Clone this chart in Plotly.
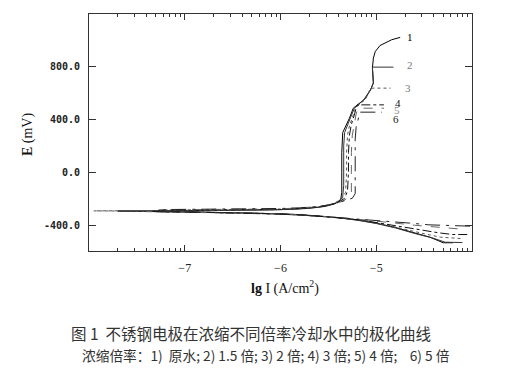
import plotly.graph_objects as go
import math

# ---- data (lg I in A/cm^2, E in mV) ----
lg1 = [-4.20, -4.30, -4.44, -4.60, -4.80, -5.00, -5.20, -5.40, -5.60, -5.80, -6.00, -6.30, -6.60, -6.90, -7.20, -7.50, -7.70,
       -7.40, -7.10, -6.80, -6.50, -6.20, -6.00, -5.80, -5.60, -5.48, -5.40, -5.37, -5.36, -5.36, -5.36, -5.35, -5.31, -5.28,
       -5.24, -5.20, -5.13, -5.06, -5.03, -5.04, -5.03, -5.01, -4.96, -4.84, -4.75]
E1 = [-530, -530, -488, -455, -415, -382, -358, -340, -328, -318, -312, -306, -302, -298, -295, -292, -291,
      -290, -289, -288, -286, -284, -280, -274, -262, -245, -225, -200, -150, 0, 150, 300, 357, 408,
      483, 508, 546, 621, 672, 785, 860, 910, 955, 998, 1016]

lg2 = [-4.10, -4.28, -4.42, -4.60, -4.80, -5.00, -5.20, -5.40, -5.60, -5.80, -6.00, -6.30, -6.60, -6.90, -7.20, -7.40,
       -7.30, -7.00, -6.70, -6.40, -6.10, -5.90, -5.70, -5.55, -5.45, -5.38, -5.35, -5.34, -5.34, -5.34, -5.33, -5.30,
       -5.27, -5.23, -5.19, -5.12, -5.06, -5.03, -5.04, -4.82]
E2 = [-528, -526, -492, -460, -418, -385, -360, -342, -330, -320, -313, -307, -303, -299, -296, -294,
      -292, -290, -289, -287, -283, -279, -271, -258, -240, -215, -180, -100, 50, 200, 300, 360,
      410, 480, 510, 550, 620, 675, 792, 792]

lg3 = [-4.12, -4.33, -4.50, -4.70, -4.90, -5.10, -5.30, -5.50, -5.70, -5.90, -6.20, -6.50, -6.80, -7.10, -7.40, -7.70, -7.95,
       -7.60, -7.30, -7.00, -6.70, -6.40, -6.10, -5.90, -5.70, -5.55, -5.44, -5.36, -5.32, -5.31, -5.31, -5.30, -5.28,
       -5.25, -5.22, -5.18, -5.11, -5.06, -4.85]
E3 = [-498, -488, -462, -428, -395, -368, -348, -334, -323, -315, -308, -303, -299, -296, -293, -291, -290,
      -289, -288, -287, -286, -284, -281, -277, -268, -254, -232, -200, -150, 0, 150, 280, 350,
      410, 475, 508, 552, 634, 634]

lg4 = [-4.05, -4.20, -4.35, -4.55, -4.75, -4.95, -5.15, -5.35, -5.55, -5.75, -6.00, -6.30, -6.60, -6.90, -7.20, -7.35,
       -7.25, -6.95, -6.65, -6.35, -6.05, -5.85, -5.65, -5.50, -5.40, -5.33, -5.30, -5.29, -5.29, -5.28, -5.26, -5.23,
       -5.20, -4.92]
E4 = [-468, -468, -455, -430, -405, -380, -360, -345, -332, -322, -314, -308, -304, -300, -297, -295,
      -285, -284, -283, -281, -278, -273, -264, -250, -228, -195, -140, 0, 150, 280, 360, 430,
      508, 508]

lg5 = [-4.15, -4.25, -4.40, -4.60, -4.80, -5.00, -5.20, -5.40, -5.60, -5.80, -6.10, -6.40, -6.70, -7.00, -7.30, -7.40,
       -7.30, -7.00, -6.70, -6.40, -6.10, -5.85, -5.65, -5.48, -5.37, -5.30, -5.26, -5.26, -5.26, -5.25, -5.23, -5.21,
       -5.19, -4.92]
E5 = [-425, -420, -410, -398, -382, -366, -352, -340, -330, -321, -313, -307, -303, -300, -297, -296,
      -282, -281, -280, -279, -276, -270, -260, -244, -222, -195, -150, 0, 150, 280, 370, 440,
      483, 483]

lg6 = [-4.02, -4.10, -4.25, -4.45, -4.65, -4.85, -5.05, -5.25, -5.45, -5.65, -5.85, -6.10, -6.40, -6.70, -7.00, -7.30,
       -7.20, -6.90, -6.60, -6.30, -6.00, -5.80, -5.60, -5.45, -5.33, -5.25, -5.22, -5.22, -5.22, -5.22, -5.21, -5.19,
       -5.17, -4.94]
E6 = [-405, -404, -402, -395, -382, -370, -358, -346, -336, -327, -319, -312, -306, -302, -299, -296,
      -280, -279, -277, -275, -272, -267, -257, -240, -215, -195, -160, -50, 100, 250, 340, 410,
      453, 453]

curve_labels = ["1", "2", "3", "4", "5", "6"]
label_x = [-4.70, -4.70, -4.72, -4.83, -4.84, -4.85]
label_y = [1016, 805, 638, 524, 472, 398]

x_major = [-7, -6, -5]
x_major_text = ["\u22127", "\u22126", "\u22125"]
y_major = [800, 400, 0, -400]
y_major_text = ["800.0", "400.0", "0.0", "-400.0"]

x_title = "<b>lg</b> I (A/cm<sup>2</sup>)"
y_title = "<b>E</b> (mV)"
caption1 = "图 1  不锈钢电极在浓缩不同倍率冷却水中的极化曲线"
caption2 = "浓缩倍率：1)  原水; 2) 1.5 倍; 3) 2 倍; 4) 3 倍; 5) 4 倍;    6) 5 倍"

# ---- styles ----
series = [
    (lg1, E1, "#000000", "solid"),
    (lg2, E2, "#333333", "solid"),
    (lg3, E3, "#555555", "dot"),
    (lg4, E4, "#111111", "dashdot"),
    (lg5, E5, "#666666", "dash"),
    (lg6, E6, "#222222", "longdashdot"),
]
label_colors = ["#000000", "#777777", "#777777", "#111111", "#888888", "#222222"]

fig = go.Figure()
for xs, ys, col, dash in series:
    fig.add_trace(go.Scatter(x=xs, y=ys, mode="lines",
                             line=dict(color=col, width=1, dash=dash),
                             showlegend=False, hoverinfo="skip"))

minor_vals = []
for d in range(-8, -4):
    for k in range(2, 10):
        minor_vals.append(d + math.log10(k))

# page body has an 8px default margin, so the figure is made 8px smaller and margins reduced
fig.update_layout(
    width=523, height=364,
    margin=dict(l=81, r=59, t=6, b=121, autoexpand=False),
    paper_bgcolor="white", plot_bgcolor="white",
    showlegend=False,
    xaxis=dict(range=[-8, -4], showgrid=False, zeroline=False, automargin=False,
               showline=True, linecolor="#333333", linewidth=1, mirror="ticks",
               ticks="inside", ticklen=6, tickcolor="#333333",
               tickmode="array", tickvals=x_major, ticktext=x_major_text,
               tickfont=dict(family="Liberation Serif", size=12, color="#222222"),
               ticklabelstandoff=6,
               minor=dict(tickmode="array", tickvals=minor_vals, ticks="inside",
                          ticklen=3, tickcolor="#333333", showgrid=False)),
    yaxis=dict(range=[-592, 1192], showgrid=False, zeroline=False, automargin=False,
               showline=True, linecolor="#333333", linewidth=1, mirror="ticks",
               ticks="inside", ticklen=7, tickcolor="#333333",
               tickmode="array", tickvals=y_major, ticktext=y_major_text,
               tickfont=dict(family="DejaVu Sans Mono", size=10, color="#222222", weight="bold"),
               ticklabelstandoff=6),
)

for t, xx, yy, c in zip(curve_labels, label_x, label_y, label_colors):
    fig.add_annotation(x=xx, y=yy, text=t, showarrow=False, xanchor="left", yanchor="middle",
                       font=dict(family="Liberation Serif", size=11, color=c))

fig.add_annotation(xref="paper", yref="paper", x=0.512, y=-0.152, text=x_title, showarrow=False,
                   xanchor="center", yanchor="middle",
                   font=dict(family="Liberation Serif", size=14, color="#111111"))
fig.add_annotation(xref="paper", yref="paper", x=-0.159, y=0.494, text=y_title, showarrow=False,
                   textangle=-90, xanchor="center", yanchor="middle",
                   font=dict(family="Liberation Serif", size=14, color="#111111"))
fig.add_annotation(xref="paper", yref="paper", x=0.424, y=-0.346, text=caption1, showarrow=False,
                   xanchor="center", yanchor="middle",
                   font=dict(family="Noto Sans CJK SC", size=15.5, color="#333333"))
fig.add_annotation(xref="paper", yref="paper", x=0.461, y=-0.439, text=caption2, showarrow=False,
                   xanchor="center", yanchor="middle",
                   font=dict(family="Noto Sans CJK SC", size=13.7, color="#333333"))

fig.write_html("out.html")
